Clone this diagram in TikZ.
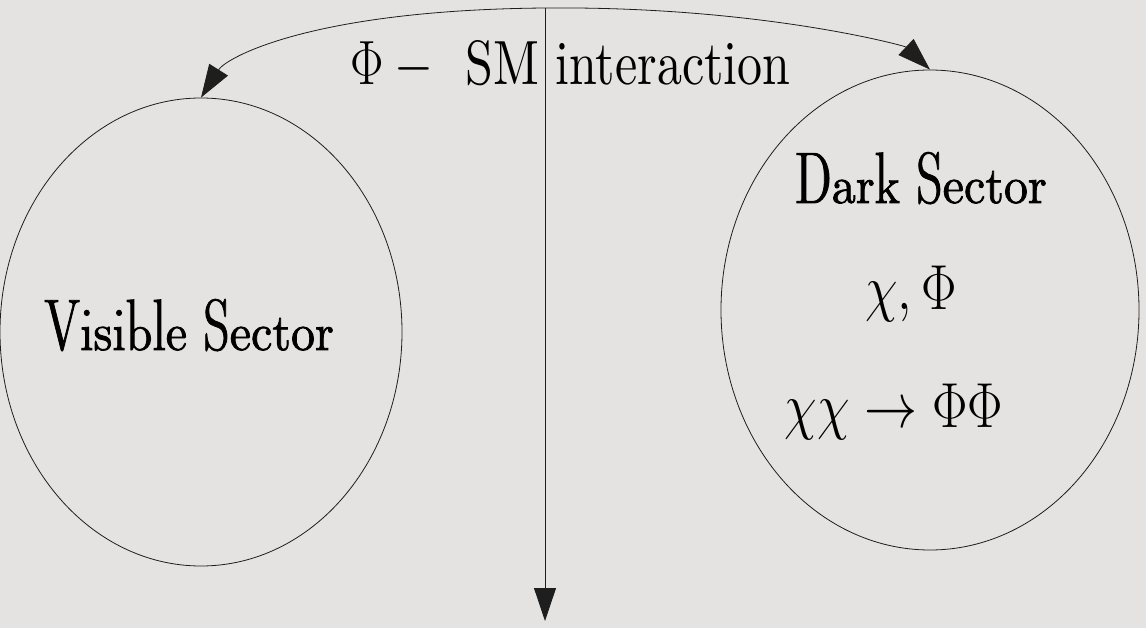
\RequirePackage{fix-cm}
\documentclass[tikz,border=0pt]{standalone}
\usepackage{fontspec}
\setmainfont{lmroman10-regular}[Extension=.otf]
\usetikzlibrary{arrows.meta,shapes.geometric}
\newfontfamily\dunh{Latin Modern Roman Dunhill}[FakeBold=1.6]
\newfontfamily\lmten{lmroman10-regular}[Extension=.otf]
\definecolor{paper}{RGB}{229,227,225}
\definecolor{ink}{RGB}{30,30,30}
\tikzset{
  sector/.style={ellipse, draw=ink, line width=0.8pt, inner sep=0pt},
  title/.style={font=\dunh\fontsize{48}{52}\selectfont, inner sep=0pt, anchor=base, yscale=1.08},
  mathlbl/.style={font=\fontsize{53}{60}\selectfont, inner sep=0pt, anchor=base, yscale=1.2},
  toptext/.style={font=\lmten\fontsize{50}{60}\selectfont, inner sep=0pt, anchor=base west, yscale=1.25},
  tipshape/.tip={Triangle[length=33pt,width=22pt]},
  link/.style={line width=0.8pt, draw=ink}
}
\begin{document}
\begin{tikzpicture}[x=1pt,y=-1pt]
\fill[paper] (0,0) rectangle (1146,628);
\useasboundingbox (0,0) rectangle (1146,628);
\node[sector, minimum width=402pt, minimum height=468pt] (vis) at (201,332) {};
\node[sector, minimum width=418pt, minimum height=480pt] (dark) at (930,310) {};
\node[title] (vislbl) at (189,350) {Visible Sector};
\node[title] (darklbl) at (921,203) {Dark Sector};
\node[mathlbl] (chiphi) at (911,309) {$\chi,\Phi$};
\node[mathlbl] (ann) at (894,427) {$\chi\chi\rightarrow\Phi\Phi$};
\node[toptext] (phim) at (350,85) {$\Phi-{}$};
\node[toptext] (sm) at (465,85) {SM interaction};
\coordinate (top) at (545,8);
\coordinate (bot) at (545,621);
\draw[link, -tipshape] (top) -- (bot);
\draw[link, tipshape-tipshape]
  (vis.north) .. controls (226,58) and (310,10) .. (top)
  .. controls (760,6) and (905,46) .. (dark.north);
\end{tikzpicture}
\end{document}
